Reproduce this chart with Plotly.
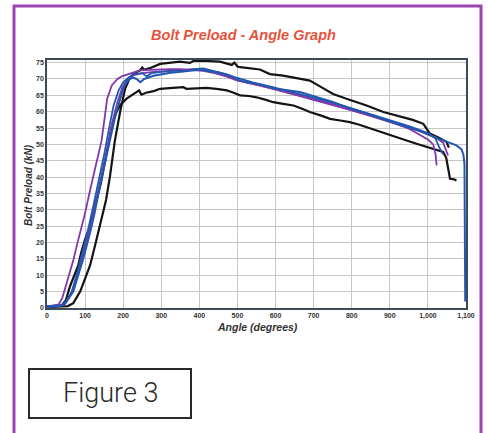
import plotly.graph_objects as go

# ---- data ----
x_ticks = list(range(0, 1101, 100))
y_ticks = list(range(0, 76, 5))

black_low_x = [0, 20, 40, 50, 60, 70, 82, 90, 100, 113, 122, 130, 141, 152, 162, 170, 180, 192, 209, 222, 235, 242, 248, 260, 280, 297, 330, 358, 366, 390, 419, 445, 472, 490, 507, 530, 550, 575, 594, 620, 647, 670, 690, 720, 743, 770, 795, 820, 839, 865, 892, 920, 944, 970, 997, 1020, 1040, 1048, 1053, 1058, 1066, 1075]
black_low_y = [0.3, 0.5, 1, 2.5, 6.5, 9.5, 13, 17, 21, 25, 29, 33, 38, 44.5, 51, 55.5, 59.4, 62, 64, 65, 65.8, 66.5, 65.2, 65.8, 66.3, 67, 67.3, 67.5, 67, 67.2, 67.3, 67, 66.5, 65.8, 65, 64.8, 64.4, 63.6, 62.9, 62.4, 61.9, 60.9, 59.9, 58.8, 57.8, 57.3, 56.8, 56, 55.3, 54.3, 53.3, 52.2, 51.2, 50.2, 49.2, 48.4, 47.7, 46, 42, 39.5, 39.4, 39]

black_up_x = [0, 30, 55, 69, 87, 100, 113, 126, 139, 155, 165, 178, 192, 205, 218, 230, 244, 250, 255, 270, 297, 323, 349, 375, 384, 420, 454, 485, 492, 500, 507, 559, 585, 620, 647, 690, 720, 751, 790, 839, 883, 935, 960, 988, 1005, 1030, 1049, 1055]
black_up_y = [0.3, 0.4, 0.6, 1.5, 5, 9, 13, 19, 25, 33, 40, 51, 60, 67, 70.5, 71.8, 72.6, 73.5, 72.8, 73.3, 74.6, 75, 75.3, 74.9, 75.5, 75.5, 75.3, 74.3, 75, 73.8, 73.6, 72.9, 71.5, 71, 70.5, 69.5, 67.5, 65.4, 63.8, 61.9, 59.9, 58.3, 57.5, 56.3, 53.3, 52, 50.7, 49]

blue_a_x = [0, 40, 47, 69, 82, 95, 113, 125, 140, 155, 165, 178, 190, 200, 212, 225, 235, 245, 255, 280, 320, 360, 400, 420, 450, 480, 507, 559, 603, 664, 700, 750, 800, 839, 900, 970, 1000, 1040, 1075, 1088, 1093, 1096, 1097, 1098]
blue_a_y = [0.5, 0.8, 1.2, 5, 10, 15, 23, 29, 38, 46, 51, 58, 63, 67, 69.5, 70.5, 70, 69, 70, 71, 71.8, 72.3, 72.8, 72.5, 72, 71, 69.5, 68.3, 67, 66, 64.8, 63, 60.8, 59.5, 57, 54.5, 53, 51.2, 49.7, 48.5, 47, 44, 30, 2]

blue_b_x = [0, 35, 50, 65, 80, 95, 110, 125, 140, 152, 163, 175, 188, 200, 215, 230, 250, 262, 275, 300, 340, 380, 410, 430, 470, 500, 540, 600, 650, 700, 750, 800, 850, 900, 950, 1000, 1020, 1030, 1040]
blue_b_y = [0.3, 0.6, 2, 5, 11, 18, 25, 33, 41, 48, 55, 62, 66.5, 69, 70.5, 71.5, 71.8, 70.8, 71.8, 72.2, 72.6, 73, 73.2, 72.6, 71.5, 70.3, 69, 67.3, 65.8, 64.5, 62.8, 61, 59.2, 57.4, 55.6, 53.5, 51.8, 49, 47]

purple_a_x = [0, 15, 30, 40, 56, 70, 78, 91, 100, 113, 125, 143, 150, 158, 170, 185, 196, 213, 230, 244, 270, 300, 323, 350, 380, 410, 440, 470, 500, 530, 560, 600, 650, 700, 750, 800, 850, 900, 950, 970, 1000, 1014, 1020, 1023]
purple_a_y = [0.5, 0.8, 1, 3, 9, 15, 19, 25, 29, 36, 42, 51, 57, 64, 68, 70, 70.8, 71.5, 72, 72.6, 72.8, 73, 73, 73, 72.8, 72.5, 71.8, 70.8, 69.5, 68.8, 68, 66.8, 65.2, 63.8, 62.2, 60.5, 58.8, 57, 54.8, 53.5, 51.5, 50, 47, 43.6]

purple_b_x = [0, 45, 60, 75, 90, 105, 120, 135, 150, 162, 172, 185, 198, 212, 228, 250, 280, 320, 360, 400, 430, 460, 490, 520, 560, 600, 650, 700, 750, 800, 850, 900, 950, 990, 1020, 1040, 1053]
purple_b_y = [0.5, 1, 3.5, 8, 14, 21, 28, 36, 44, 51, 57, 63, 67.5, 70, 71.2, 71.8, 72.2, 72.4, 72.8, 73, 72.4, 71.6, 70.2, 69, 68, 66.8, 65.3, 64, 62.3, 60.5, 58.7, 56.8, 55, 53.6, 52.2, 50.5, 46.6]

# ---- layout geometry (page pixels; body margin removed below) ----
W, H = 488, 433
PL, PR, PT, PB = 47, 466, 60, 308          # plot area in page pixels
L, T, R, B = PL, PT, W - PR, H - PB
PW, PH = PR - PL, PB - PT

def px(x):
    return (x - PL) / PW

def py(y):
    return (PB - y) / PH

BLACK = "#141414"
BLUE = "#2257b0"
PURPLE = "#8038ab"

fig = go.Figure()
series = [
    (black_low_x, black_low_y, BLACK, 2.2),
    (black_up_x, black_up_y, BLACK, 2.2),
    (purple_b_x, purple_b_y, PURPLE, 1.8),
    (blue_b_x, blue_b_y, BLUE, 1.8),
    (purple_a_x, purple_a_y, PURPLE, 1.8),
    (blue_a_x, blue_a_y, BLUE, 2.0),
]
for xs, ys, c, w in series:
    fig.add_trace(go.Scatter(x=xs, y=ys, mode="lines",
                             line=dict(color=c, width=w), showlegend=False,
                             hoverinfo="skip"))

axis_common = dict(showgrid=True, gridcolor="#c6c6c6", gridwidth=1,
                   showline=True, linecolor="#3d4a57", linewidth=1.5, mirror=True,
                   zeroline=False, ticks="",
                   tickfont=dict(family="Liberation Sans, Arial", size=7, color="#333333", weight="bold"))

fig.update_xaxes(range=[0, 1100], tickvals=x_ticks, tickformat=",d", **axis_common)
fig.update_yaxes(range=[0, 75.8], tickvals=y_ticks, **axis_common)

fig.update_layout(
    width=W, height=H,
    margin=dict(l=L, r=R, t=T, b=B),
    paper_bgcolor="white", plot_bgcolor="white",
    title=dict(text="<b><i>Bolt Preload - Angle Graph</i></b>",
               x=243.5 / W, xref="container", xanchor="center",
               y=1 - 35 / H, yref="container", yanchor="middle",
               font=dict(family="Liberation Sans, Arial", size=14.5, color="#e5533d")),
    shapes=[
        dict(type="rect", xref="paper", yref="paper",
             x0=px(14), x1=px(481), y0=py(470), y1=py(6),
             line=dict(color="#9b43b5", width=3), fillcolor="rgba(0,0,0,0)"),
        dict(type="rect", xref="paper", yref="paper",
             x0=px(29), x1=px(191), y0=py(418), y1=py(369),
             line=dict(color="#2a2a2a", width=2), fillcolor="rgba(0,0,0,0)"),
    ],
    annotations=[
        dict(text="<b><i>Angle (degrees)</i></b>", xref="paper", yref="paper",
             x=px(257), y=py(327), showarrow=False, xanchor="center", yanchor="middle",
             font=dict(family="Liberation Sans, Arial", size=10.5, color="#333333")),
        dict(text="<b><i>Bolt Preload (kN)</i></b>", xref="paper", yref="paper",
             x=px(28), y=py(185), showarrow=False, textangle=-90,
             xanchor="center", yanchor="middle",
             font=dict(family="Liberation Sans, Arial", size=10, color="#333333")),
        dict(text="Figure 3", xref="paper", yref="paper",
             x=px(110), y=py(393), showarrow=False, xanchor="center", yanchor="middle",
             font=dict(family="Roboto", size=27, color="#2a2a2a", weight=300)),
    ],
)

fig.write_html(
    "out.html",
    config={"displayModeBar": False, "responsive": False},
    post_script="document.body.style.margin='0';document.body.style.overflow='hidden';",
)
